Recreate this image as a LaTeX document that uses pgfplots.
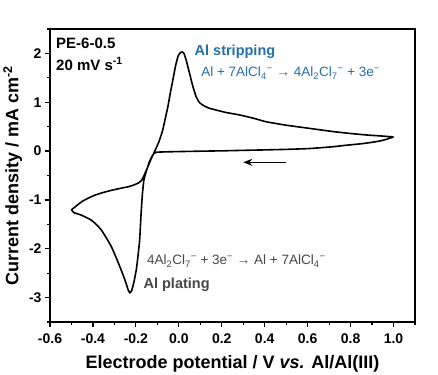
\documentclass[border=0pt]{standalone}
\usepackage{pgfplots}
\pgfplotsset{compat=1.18}
\usetikzlibrary{arrows.meta}
\usepackage{fontspec}
\setmainfont{Liberation Sans}
\definecolor{stripblue}{RGB}{38,112,168}
\definecolor{plategray}{RGB}{70,70,70}
\begin{document}
\begin{tikzpicture}
\begin{axis}[
  scale only axis,
  width=365pt, height=293pt,
  xmin=-0.6, xmax=1.1, ymin=-3.5, ymax=2.5,
  xtick distance=0.2, ytick distance=1,
  minor x tick num=1, minor y tick num=1,
  xtick pos=bottom, ytick pos=left,
  tick align=outside,
  major tick length=5pt, minor tick length=3pt,
  axis line style={line width=1.3pt},
  every tick/.style={line width=1.2pt, black},
  /pgf/number format/assume math mode=true,
  tick label style={font=\fontsize{14}{16}\selectfont\bfseries},
  xticklabel style={yshift=-3pt, /pgf/number format/.cd, fixed, fixed zerofill, precision=1},
  yticklabel style={/pgf/number format/.cd, fixed, precision=0},
  xlabel={Electrode potential / V \textit{vs.} Al/Al(III)},
  ylabel={Current density / mA cm\textsuperscript{-2}},
  xlabel style={yshift=-5pt},
  label style={font=\fontsize{18}{20}\selectfont\bfseries},
  clip=false,
]
\addplot[black, line width=1.6pt, smooth, tension=0.3] coordinates {
(1.0,0.29) (0.97,0.245) (0.94,0.21) (0.9,0.18) (0.85,0.15) (0.78,0.12) (0.72,0.09)
(0.65,0.065) (0.6,0.05) (0.5,0.035) (0.407,0.025) (0.3,0.015) (0.2,0.005) (0.1,-0.002)
(0.0,-0.01) (-0.05,-0.015) (-0.09,-0.02) (-0.106,-0.025) (-0.118,-0.06) (-0.128,-0.13)
(-0.137,-0.22) (-0.152,-0.42) (-0.163,-0.6) (-0.17,-0.9) (-0.176,-1.3) (-0.183,-1.85)
(-0.197,-2.4) (-0.21,-2.7) (-0.22,-2.86) (-0.228,-2.9) (-0.236,-2.84) (-0.25,-2.65)
(-0.269,-2.43) (-0.29,-2.2) (-0.315,-1.95) (-0.34,-1.76) (-0.362,-1.61) (-0.385,-1.5)
(-0.409,-1.41) (-0.435,-1.35) (-0.455,-1.31) (-0.475,-1.28) (-0.487,-1.265) (-0.495,-1.235)
(-0.499,-1.2) (-0.485,-1.15) (-0.471,-1.1) (-0.45,-1.03) (-0.425,-0.97) (-0.395,-0.91)
(-0.362,-0.86) (-0.32,-0.81) (-0.269,-0.76) (-0.235,-0.73) (-0.207,-0.69) (-0.185,-0.645)
(-0.172,-0.59) (-0.16,-0.48) (-0.145,-0.33) (-0.13,-0.17) (-0.112,0.0) (-0.092,0.2)
(-0.075,0.43) (-0.063,0.67) (-0.051,0.91) (-0.04,1.18) (-0.028,1.45) (-0.015,1.75)
(-0.003,1.95) (0.008,2.02) (0.016,2.03) (0.024,2.0) (0.035,1.85) (0.05,1.59) (0.065,1.33)
(0.081,1.11) (0.095,1.0) (0.112,0.94) (0.14,0.88) (0.174,0.84) (0.22,0.79) (0.283,0.74)
(0.35,0.67) (0.407,0.6) (0.5,0.53) (0.6,0.47) (0.718,0.4) (0.8,0.36) (0.874,0.33)
(0.94,0.31) (1.0,0.29)
};
\draw[black, line width=1.5pt, -{Stealth[length=9pt,width=7pt]}] (axis cs:0.5,-0.23) -- (axis cs:0.3,-0.23);
\node[anchor=base west, inner sep=0pt, font=\fontsize{15}{17}\selectfont\bfseries] at (axis cs:-0.572,2.11) {PE-6-0.5};
\node[anchor=base west, inner sep=0pt, font=\fontsize{15}{17}\selectfont\bfseries] at (axis cs:-0.572,1.66) {20 mV s\textsuperscript{-1}};
\node[anchor=base west, inner sep=0pt, text=stripblue, font=\fontsize{14.5}{16}\selectfont\bfseries] at (axis cs:0.073,1.96) {Al stripping};
\node[anchor=base west, inner sep=0pt, text=stripblue, font=\fontsize{13.5}{15}\selectfont] at (axis cs:0.104,1.52) {Al + 7AlCl\textsubscript{4}\textsuperscript{−} → 4Al\textsubscript{2}Cl\textsubscript{7}\textsuperscript{−} + 3e\textsuperscript{−}};
\node[anchor=base west, inner sep=0pt, text=plategray, font=\fontsize{13.5}{15}\selectfont] at (axis cs:-0.149,-2.33) {4Al\textsubscript{2}Cl\textsubscript{7}\textsuperscript{−} + 3e\textsuperscript{−} → Al + 7AlCl\textsubscript{4}\textsuperscript{−}};
\node[anchor=base west, inner sep=0pt, text=plategray, font=\fontsize{14.5}{16}\selectfont\bfseries] at (axis cs:-0.165,-2.81) {Al plating};
\end{axis}
\pgfresetboundingbox
\path[use as bounding box] (-50pt,-52pt) rectangle (388pt,322pt);
\end{tikzpicture}
\end{document}
